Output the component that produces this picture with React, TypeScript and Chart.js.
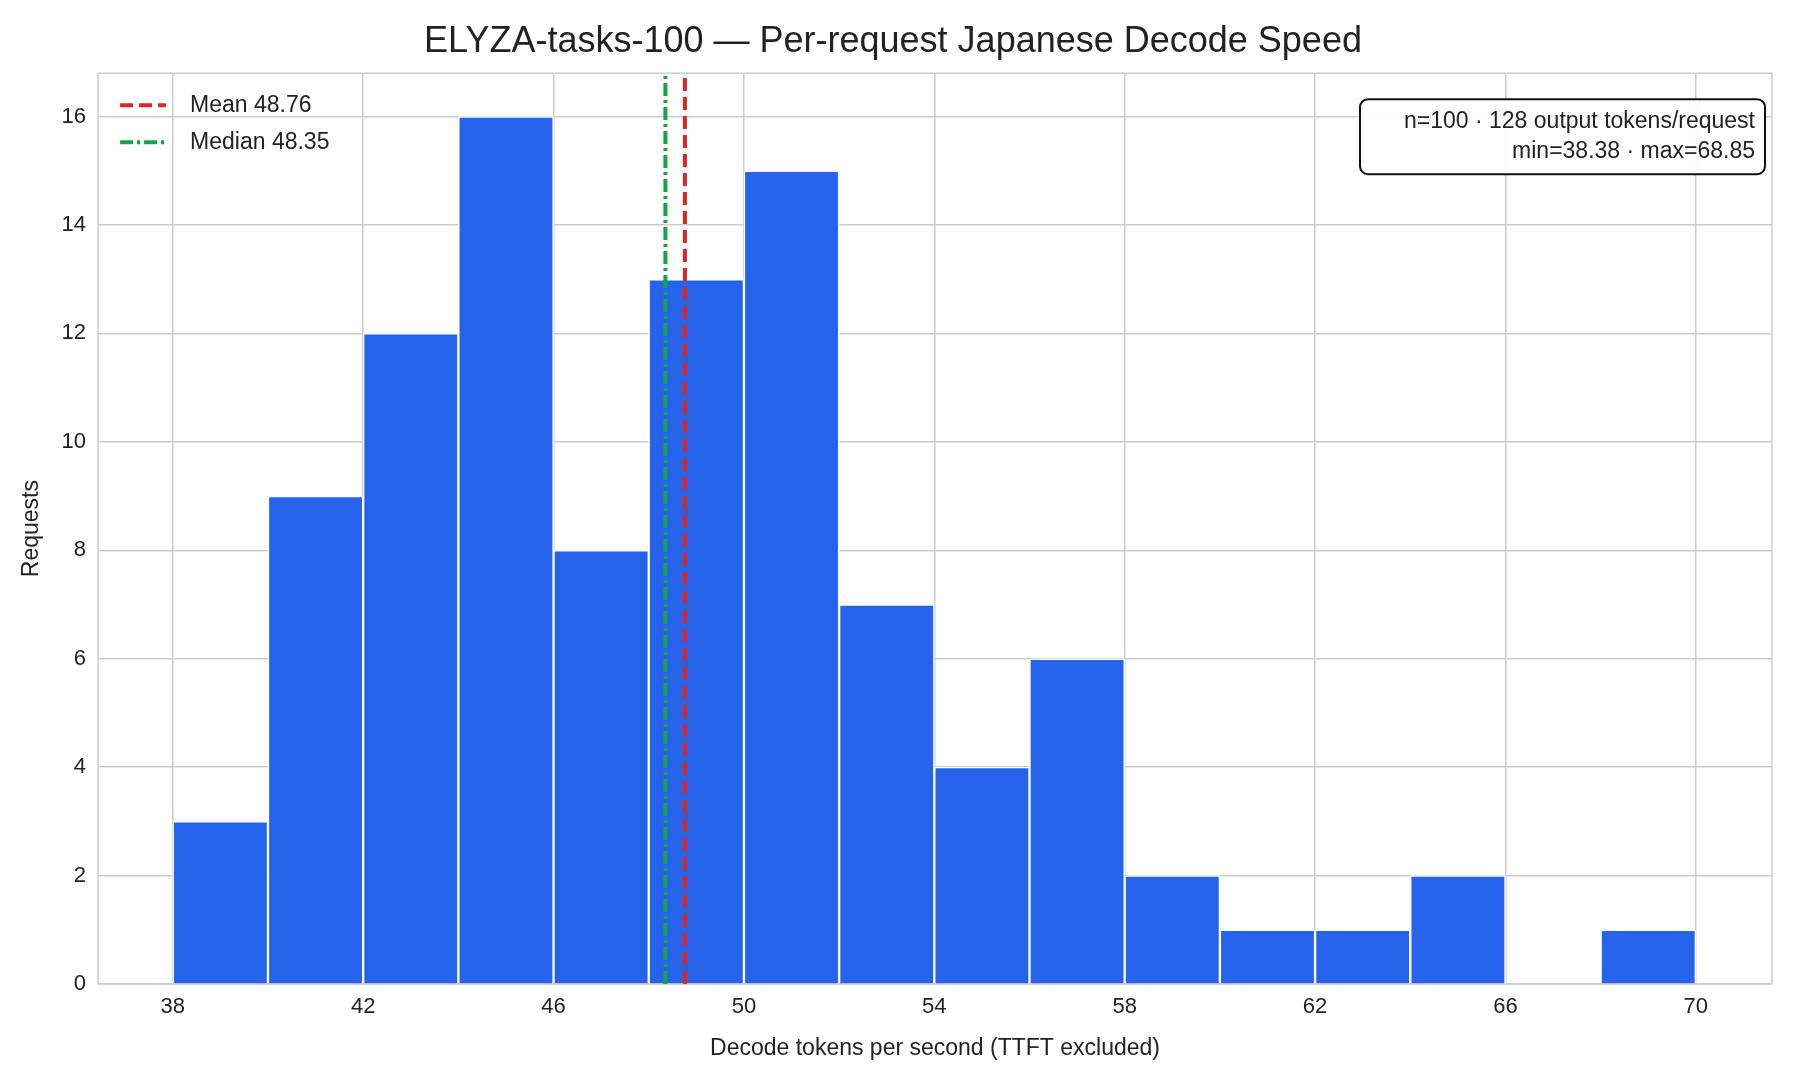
import React, { useEffect, useRef } from "react";
import { Chart, registerables } from "chart.js";
Chart.register(...registerables);

const binCenters = [39, 41, 43, 45, 47, 49, 51, 53, 55, 57, 59, 61, 63, 65, 67, 69];
const counts = [3, 9, 12, 16, 8, 13, 15, 7, 4, 6, 2, 1, 1, 2, 0, 1];
const xTicks = [38, 42, 46, 50, 54, 58, 62, 66, 70];
const meanVal = 48.76;
const medianVal = 48.35;
const infoLines = ["n=100 · 128 output tokens/request", "min=38.38 · max=68.85"];
const FONT = "'Liberation Sans', Arial, sans-serif";

export default function App() {
  const ref = useRef<HTMLCanvasElement>(null);
  useEffect(() => {
    document.body.style.margin = "0";
    const extras = {
      id: "extras",
      beforeDatasetsDraw(c: any) {
        const { ctx, chartArea: a } = c;
        ctx.save();
        ctx.strokeStyle = "#cccccc";
        ctx.lineWidth = 1.5;
        ctx.strokeRect(a.left, a.top, a.right - a.left, a.bottom - a.top);
        ctx.restore();
      },
      afterDraw(c: any) {
        const { ctx, chartArea: a } = c;
        ctx.save();
        ctx.font = `23px ${FONT}`;
        ctx.textBaseline = "middle";
        const items = [
          { label: `Mean ${meanVal}`, color: "#dc2626", dash: [13, 6] },
          { label: `Median ${medianVal}`, color: "#16a34a", dash: [13, 4, 3, 4] },
        ];
        items.forEach((it, i) => {
          const y = a.top + 32 + i * 37;
          ctx.strokeStyle = it.color;
          ctx.lineWidth = 4;
          ctx.setLineDash(it.dash);
          ctx.beginPath();
          ctx.moveTo(a.left + 22, y);
          ctx.lineTo(a.left + 68, y);
          ctx.stroke();
          ctx.setLineDash([]);
          ctx.fillStyle = "#222";
          ctx.textAlign = "left";
          ctx.fillText(it.label, a.left + 92, y);
        });
        const w = 405, h = 75;
        const x = a.right - 7 - w, y0 = a.top + 26;
        ctx.fillStyle = "rgba(255,255,255,0.9)";
        ctx.strokeStyle = "#111";
        ctx.lineWidth = 2;
        ctx.beginPath();
        (ctx as any).roundRect(x, y0, w, h, 8);
        ctx.fill();
        ctx.stroke();
        ctx.fillStyle = "#222";
        ctx.textAlign = "right";
        ctx.fillText(infoLines[0], a.right - 17, y0 + 22);
        ctx.fillText(infoLines[1], a.right - 17, y0 + 52);
        ctx.restore();
      },
    };
    const chart = new Chart(ref.current!, {
      type: "bar",
      data: {
        datasets: [
          {
            type: "line",
            data: [{ x: meanVal, y: 0 }, { x: meanVal, y: 16.8 }],
            borderColor: "#dc2626",
            borderWidth: 4,
            borderDash: [13, 6],
            pointRadius: 0,
            order: 0,
          } as any,
          {
            type: "line",
            data: [{ x: medianVal, y: 0 }, { x: medianVal, y: 16.8 }],
            borderColor: "#16a34a",
            borderWidth: 4,
            borderDash: [13, 4, 3, 4],
            pointRadius: 0,
            order: 1,
          } as any,
          {
            type: "bar",
            data: binCenters.map((x, i) => ({ x, y: counts[i] })),
            backgroundColor: "#2563eb",
            borderColor: "#ffffff",
            borderWidth: 1.5,
            barPercentage: 1,
            categoryPercentage: 1,
            order: 2,
          } as any,
        ],
      },
      options: {
        animation: false,
        responsive: false,
        layout: { padding: { left: 14, right: 28, top: 4, bottom: 14 } },
        plugins: {
          legend: { display: false },
          tooltip: { enabled: false },
          title: {
            display: true,
            text: "ELYZA-tasks-100 — Per-request Japanese Decode Speed",
            color: "#222",
            font: { family: FONT, size: 36, weight: "normal" },
            padding: { top: 16, bottom: 10 },
          },
        },
        scales: {
          x: {
            type: "linear",
            offset: false,
            min: 36.43,
            max: 71.6,
            afterBuildTicks: (s: any) => { s.ticks = xTicks.map((v) => ({ value: v })); },
            grid: { color: "#cccccc", lineWidth: 1.5, drawTicks: false, offset: false },
            border: { display: false },
            ticks: { color: "#222", font: { family: FONT, size: 22 }, padding: 10 },
            title: { display: true, text: "Decode tokens per second (TTFT excluded)", color: "#222", font: { family: FONT, size: 23 }, padding: { top: 4 } },
          },
          y: {
            min: 0,
            max: 16.8,
            afterBuildTicks: (s: any) => { s.ticks = [0, 2, 4, 6, 8, 10, 12, 14, 16].map((v) => ({ value: v })); },
            grid: { color: "#cccccc", lineWidth: 1.5, drawTicks: false },
            border: { display: false },
            ticks: { color: "#222", font: { family: FONT, size: 22 }, padding: 12 },
            title: { display: true, text: "Requests", color: "#222", font: { family: FONT, size: 23 } },
          },
        },
      },
      plugins: [extras],
    });
    return () => chart.destroy();
  }, []);
  return <canvas ref={ref} width={1800} height={1080} style={{ display: "block" }} />;
}
